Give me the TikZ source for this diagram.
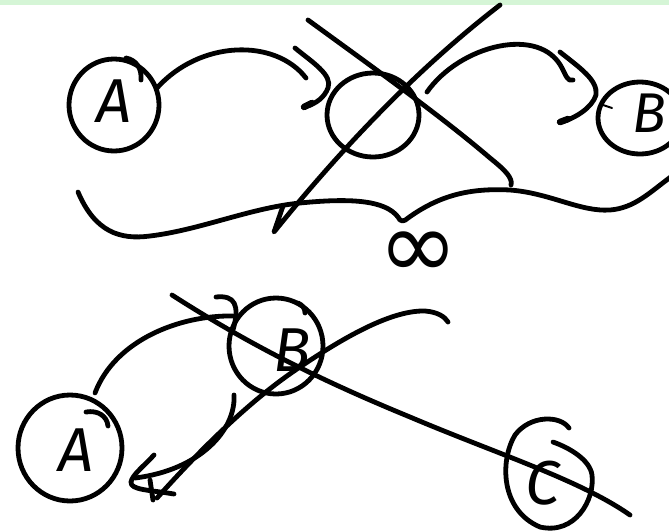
\documentclass[tikz,border=0pt]{standalone}
\usepackage{fontspec}
\setmainfont{Fira Sans}
\newfontfamily\symfont{DejaVu Sans}
\usetikzlibrary{shapes.geometric}
\definecolor{stripgreen}{RGB}{213,245,214}
\begin{document}
\begin{tikzpicture}[x=1pt,y=-1pt,
  ink/.style={line width=4.8pt,line cap=round,line join=round,black},
  ring/.style={ellipse,draw,line width=4.8pt,inner sep=0pt},
  letter/.style={font=\fontsize{62}{62}\selectfont\itshape,inner sep=0pt}]
\useasboundingbox (0,0) rectangle (669,531);
\fill[stripgreen] (0,0) rectangle (669,5);

% ---------- top part ----------
\node[ring,minimum width=90pt,minimum height=92pt] (A1) at (114,105) {};
\node[letter] (A1t) at (114,101) {A};
\draw[ink] (126,58) .. controls (136,60) and (142,68) .. (141,80);

\node[ring,minimum width=92pt,minimum height=84pt] (M) at (373,115) {};

\node[ring,minimum width=84pt,minimum height=72pt] (B1) at (640,118) {};
\node[letter,font=\fontsize{56}{56}\selectfont\itshape] (B1t) at (649,113) {B};
\draw[ink,line width=2pt] (600,104) -- (612,108);

% A -> middle
\draw[ink] (157,88) .. controls (200,40) and (275,38) .. (306,78);
\draw[ink] (295,48) .. controls (312,62) and (333,75) .. (328,88)
           .. controls (324,98) and (316,103) .. (308,106);
\draw[ink,line width=6.5pt] (304,107) -- (312,103);

% middle -> B
\draw[ink] (427,92) .. controls (460,45) and (540,25) .. (562,68)
           .. controls (566,76) and (568,82) .. (573,80);
\draw[ink] (560,52) .. controls (580,68) and (598,80) .. (596,95)
           .. controls (592,108) and (575,118) .. (562,122);
\draw[ink,line width=6.5pt] (560,122) -- (568,119);

% the big cross
\draw[ink] (308,20) .. controls (360,58) and (440,115) .. (490,158)
           .. controls (505,170) and (513,178) .. (511,185);
\draw[ink] (283,206) -- (274,232) .. controls (320,175) and (400,82) .. (500,5);

% brace
\draw[ink] (78,192) .. controls (95,232) and (120,240) .. (150,236)
  .. controls (200,230) and (250,208) .. (300,203)
  .. controls (350,198) and (385,200) .. (398,217)
  .. controls (400,222) and (404,222) .. (408,218)
  .. controls (440,195) and (470,188) .. (510,190)
  .. controls (550,193) and (580,212) .. (610,210)
  .. controls (635,208) and (650,192) .. (672,176);
\node[font=\symfont\fontsize{96}{96}\selectfont,inner sep=0pt] (inf) at (418,255) {∞};

% ---------- bottom part ----------
\node[ring,minimum width=104pt,minimum height=106pt] (A2) at (70,448) {};
\node[letter] (A2t) at (76,450) {A};
\draw[ink] (86,412) .. controls (98,410) and (107,416) .. (108,426);

\node[ring,minimum width=94pt,minimum height=96pt] (B2) at (276,346) {};
\node[letter] (B2t) at (292,350) {B};
\draw[ink] (298,303) .. controls (303,305) and (305,309) .. (305,313);

% C ring (spiral)
\draw[ink] (569,428) .. controls (560,415) and (530,415) .. (515,435)
  .. controls (500,460) and (500,510) .. (540,527)
  .. controls (575,535) and (595,500) .. (592,475)
  .. controls (590,460) and (570,448) .. (553,442);
\node[letter] (Ct) at (543,483) {C};

% A2 -> B2
\draw[ink] (95,393) .. controls (115,340) and (180,315) .. (233,316);
\draw[ink] (216,297) .. controls (235,295) and (240,305) .. (233,330);

% B2 -> A2
\draw[ink] (234,395) .. controls (236,430) and (200,470) .. (135,478);
\draw[ink] (154,455) .. controls (145,465) and (132,475) .. (131,482)
  .. controls (130,490) and (150,490) .. (174,494);
\draw[ink] (150,480) -- (153,500);

% long line through B2 to C
\draw[ink] (172,295) .. controls (250,345) and (320,380) .. (410,417)
  .. controls (500,455) and (580,480) .. (630,515);

% crossing line
\draw[ink] (157,498) .. controls (200,450) and (250,400) .. (300,367)
  .. controls (340,340) and (390,310) .. (425,311)
  .. controls (438,312) and (445,317) .. (448,322);
\end{tikzpicture}
\end{document}
